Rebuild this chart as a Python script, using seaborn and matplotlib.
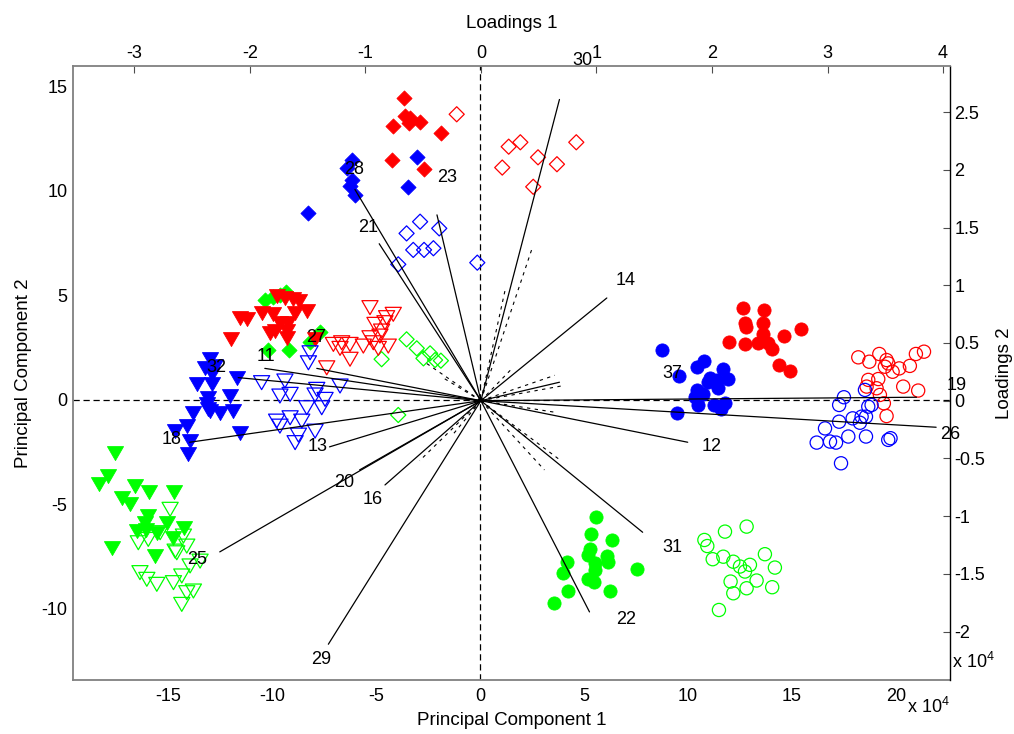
import numpy as np
import pandas as pd
import matplotlib
matplotlib.use("Agg")
import matplotlib.pyplot as plt
import seaborn as sns
from matplotlib.path import Path

# ---------------- scores (x 10^4) ----------------
red_diamond_filled = [(-3.65, 14.45), (-3.6, 13.6), (-3.41, 13.25), (-3.35, 13.5), (-2.88, 13.3),
                      (-4.18, 13.1), (-1.88, 12.78), (-4.23, 11.48), (-2.69, 11.05)]
red_diamond_open = [(-1.12, 13.67), (1.38, 12.12), (1.94, 12.33), (1.07, 11.12), (2.79, 11.61),
                    (3.7, 11.28), (4.63, 12.33), (2.56, 10.2)]
blue_diamond_filled = [(-6.17, 11.48), (-6.41, 11.08), (-6.17, 10.53), (-6.25, 10.24), (-6.0, 9.81),
                       (-8.25, 8.93), (-3.04, 11.61), (-3.45, 10.18)]
blue_diamond_open = [(-2.88, 8.53), (-3.53, 7.97), (-1.96, 8.21), (-3.21, 7.18), (-2.69, 7.18),
                     (-2.24, 7.26), (-3.93, 6.49), (-0.13, 6.57)]
green_diamond_filled = [(-10.34, 4.78), (-9.94, 4.94), (-9.34, 5.18), (-9.6, 5.0), (-10.18, 2.39),
                        (-9.18, 2.39), (-7.69, 3.27), (-8.17, 2.79)]
green_diamond_open = [(-3.53, 2.9), (-3.04, 2.47), (-2.4, 2.23), (-2.72, 1.99), (-2.16, 1.91),
                      (-1.88, 1.88), (-3.93, -0.72), (-4.73, 1.95)]

red_tri_filled = [(-11.99, 2.95), (-11.54, 3.99), (-11.22, 3.91), (-10.5, 4.23), (-9.78, 5.02),
                  (-9.38, 4.94), (-8.97, 4.87), (-8.69, 4.78), (-8.33, 4.31), (-8.89, 4.23),
                  (-9.94, 4.15), (-9.86, 3.35), (-10.1, 3.27), (-9.29, 3.03), (-9.62, 3.75),
                  (-9.21, 3.75), (-9.29, 3.35), (-7.93, 2.95)]
red_tri_open = [(-5.29, 4.47), (-4.17, 4.15), (-4.49, 3.99), (-5.05, 3.67), (-4.57, 3.75),
                (-4.73, 3.35), (-5.29, 3.03), (-7.05, 2.71), (-6.65, 2.79), (-6.25, 2.71),
                (-6.73, 2.52), (-5.61, 2.63), (-5.13, 2.79), (-4.89, 2.52), (-4.41, 2.63),
                (-6.25, 2.0), (-7.37, 1.59), (-4.81, 3.11)]
blue_tri_filled = [(-12.98, 2.0), (-13.22, 1.59), (-12.74, 1.67), (-12.9, 1.28), (-13.62, 0.8),
                   (-12.9, 0.8), (-11.7, 1.12), (-12.02, 0.24), (-13.06, 0.16), (-13.14, -0.16),
                   (-13.06, -0.4), (-12.5, -0.56), (-11.86, -0.48), (-13.78, -0.56), (-14.1, -1.2),
                   (-14.66, -1.44), (-13.94, -1.91), (-14.02, -2.55), (-11.54, -1.52), (-12.98, -0.48)]
blue_tri_open = [(-10.5, 0.88), (-9.38, 0.96), (-6.73, 0.72), (-9.62, 0.24), (-9.13, 0.32),
                 (-7.85, 0.56), (-7.93, 0.29), (-7.45, 0.08), (-8.33, -0.32), (-7.61, -0.32),
                 (-9.78, -0.96), (-9.13, -0.8), (-8.57, -0.96), (-9.62, -1.2), (-7.93, -1.44),
                 (-8.73, -1.63), (-8.89, -1.99), (-8.17, 2.31), (-8.25, 1.83)]
green_tri_filled = [(-18.3, -3.99), (-17.87, -3.59), (-16.59, -4.07), (-15.9, -4.34), (-14.7, -4.34),
                    (-17.23, -4.63), (-16.83, -4.94), (-15.98, -5.5), (-16.51, -6.22), (-16.06, -6.19),
                    (-15.54, -6.3), (-15.06, -5.82), (-14.74, -6.54), (-14.21, -6.06), (-17.68, -7.02),
                    (-15.63, -7.42), (-17.55, -2.47), (-16.1, -5.82)]
green_tri_open = [(-14.9, -5.18), (-16.43, -6.78), (-15.95, -6.62), (-15.38, -6.3), (-14.26, -6.46),
                  (-14.66, -7.18), (-14.1, -6.94), (-13.46, -7.66), (-13.94, -7.89), (-16.35, -8.21),
                  (-16.02, -8.53), (-15.54, -8.77), (-14.74, -8.69), (-14.34, -8.37), (-14.1, -9.17),
                  (-13.78, -9.09), (-14.34, -9.73), (-14.58, -7.26)]

red_circle_filled = [(12.63, 4.39), (13.67, 4.31), (12.74, 3.67), (13.62, 3.67), (11.99, 2.79),
                     (12.76, 2.68), (13.38, 2.71), (13.62, 3.16), (13.86, 2.71), (14.05, 2.44),
                     (14.62, 3.08), (15.45, 3.38), (14.39, 1.67), (14.9, 1.4), (12.79, 3.51)]
red_circle_open = [(18.19, 2.04), (18.72, 1.83), (19.2, 2.2), (19.55, 1.91), (19.63, 1.75),
                   (19.47, 1.59), (19.84, 1.35), (20.16, 1.51), (20.67, 1.63), (20.96, 2.2),
                   (21.35, 2.31), (18.67, 0.96), (19.15, 1.0), (18.59, 0.64), (19.07, 0.56),
                   (19.23, 0.24), (19.42, -0.16), (20.35, 0.64), (21.07, 0.45), (19.55, -0.77)]
blue_circle_filled = [(8.73, 2.39), (10.79, 1.87), (10.45, 1.56), (9.58, 1.15), (11.7, 1.47),
                      (11.94, 0.99), (11.06, 1.04), (11.41, 0.96), (11.46, 0.56), (10.42, 0.48),
                      (10.7, 0.27), (10.34, 0.13), (10.5, -0.24), (11.25, -0.24), (11.78, -0.13),
                      (11.57, -0.45), (9.46, -0.64), (10.98, 0.88)]
blue_circle_open = [(17.5, 0.13), (17.27, -0.24), (18.51, 0.48), (18.67, -0.32), (18.83, -0.24),
                    (17.92, -0.88), (18.35, -0.8), (18.27, -1.09), (18.56, -0.8), (17.27, -1.04),
                    (16.59, -1.36), (16.19, -2.04), (16.83, -1.99), (17.12, -2.04), (17.71, -1.75),
                    (18.56, -1.75), (19.63, -1.91), (19.74, -1.83), (17.36, -3.03)]
green_circle_filled = [(5.56, -5.58), (5.34, -6.43), (6.33, -6.7), (5.29, -7.14), (5.21, -7.42),
                       (4.17, -7.74), (6.12, -7.46), (6.17, -7.74), (5.53, -7.81), (5.53, -8.13),
                       (3.97, -8.29), (5.21, -8.58), (5.48, -8.69), (7.53, -8.09), (4.21, -9.14),
                       (6.25, -9.14), (3.57, -9.73)]
green_circle_open = [(11.78, -6.3), (12.82, -6.06), (10.79, -6.7), (10.93, -6.99), (11.19, -7.62),
                     (11.7, -7.5), (12.18, -7.74), (12.5, -7.97), (12.98, -7.89), (12.74, -8.21),
                     (13.7, -7.38), (14.18, -8.02), (12.05, -8.69), (13.3, -8.64), (12.82, -9.01),
                     (12.18, -9.25), (14.05, -8.96), (11.49, -10.05)]

# ---------------- loadings ----------------
var_names = ["11", "12", "13", "14", "16", "18", "19", "20", "21", "22",
             "23", "25", "26", "27", "28", "29", "30", "31", "32", "37"]
load1 = [-1.87, 1.79, -1.31, 1.09, -0.83, -2.52, 3.77, -1.05, -0.88, 0.94,
         -0.38, -2.26, 3.94, -1.42, -1.09, -1.32, 0.68, 1.40, -2.10, 0.68]
load2 = [0.28, -0.36, -0.40, 0.89, -0.73, -0.36, 0.03, -0.60, 1.36, -1.83,
         1.61, -1.31, -0.23, 0.28, 1.83, -2.11, 2.61, -1.14, 0.20, 0.16]
label1 = [-1.86, 2.00, -1.41, 1.25, -0.94, -2.68, 4.12, -1.18, -0.98, 1.26,
          -0.29, -2.46, 4.06, -1.43, -1.10, -1.38, 0.88, 1.66, -2.29, 1.66]
label2 = [0.38, -0.40, -0.40, 1.04, -0.86, -0.34, 0.13, -0.71, 1.50, -1.90,
          1.93, -1.38, -0.29, 0.55, 2.00, -2.24, 2.95, -1.27, 0.29, 0.24]
# small unlabelled loadings
minor1 = [0.44, 0.21, 0.28, 0.64, 0.71, 0.64, 0.42, 0.68, 0.55, -0.53, -0.24, -0.33, -0.48]
minor2 = [1.31, 0.96, 0.29, 0.22, 0.13, -0.10, -0.34, -0.51, -0.60, -0.52, -0.29, 0.20, 0.33]

pc1_ticks = [-15, -10, -5, 0, 5, 10, 15, 20]
pc2_ticks = [-10, -5, 0, 5, 10, 15]
l1_ticks = [-3, -2, -1, 0, 1, 2, 3, 4]
l2_ticks = [-2, -1.5, -1, -0.5, 0, 0.5, 1, 1.5, 2, 2.5]

# ---------------- style ----------------
sns.set_theme(style="white")
plt.rcParams["font.family"] = ["Liberation Sans", "DejaVu Sans"]
plt.rcParams["axes.unicode_minus"] = False
plt.rcParams["text.color"] = "black"
plt.rcParams["axes.labelcolor"] = "black"
plt.rcParams["xtick.color"] = "black"
plt.rcParams["ytick.color"] = "black"
plt.rcParams["mathtext.fontset"] = "custom"
plt.rcParams["mathtext.rm"] = "Liberation Sans"
plt.rcParams["mathtext.it"] = "Liberation Sans:italic"

W, H = 1014, 734
fig = plt.figure(figsize=(W / 100, H / 100), dpi=100)
rect = [73 / W, 1 - 680 / H, (950 - 73) / W, (680 - 66) / H]
ax = fig.add_axes(rect)
ax2 = fig.add_axes(rect, facecolor="none")

RED, BLUE, GREEN = "#ff0000", "#0000ff", "#00ff00"


def closed_marker(verts):
    pts = list(verts) + [verts[0]]
    codes = [Path.MOVETO] + [Path.LINETO] * (len(verts) - 1) + [Path.CLOSEPOLY]
    return Path(pts, codes)


TRI = closed_marker([(-1, 0.73), (1, 0.73), (0, -1.0)])
DIAM = closed_marker([(0, 1), (1, 0), (0, -1), (-1, 0)])
shapes = {"diamond": (DIAM, 118), "tri": (TRI, 135), "circle": ("o", 90)}

groups = [
    ("diamond", RED, True, red_diamond_filled), ("diamond", RED, False, red_diamond_open),
    ("diamond", BLUE, True, blue_diamond_filled), ("diamond", BLUE, False, blue_diamond_open),
    ("diamond", GREEN, True, green_diamond_filled), ("diamond", GREEN, False, green_diamond_open),
    ("tri", RED, True, red_tri_filled), ("tri", RED, False, red_tri_open),
    ("tri", BLUE, True, blue_tri_filled), ("tri", BLUE, False, blue_tri_open),
    ("tri", GREEN, True, green_tri_filled), ("tri", GREEN, False, green_tri_open),
    ("circle", RED, True, red_circle_filled), ("circle", RED, False, red_circle_open),
    ("circle", BLUE, True, blue_circle_filled), ("circle", BLUE, False, blue_circle_open),
    ("circle", GREEN, True, green_circle_filled), ("circle", GREEN, False, green_circle_open),
]

ax.axhline(0, color="black", lw=0.9, ls=(0, (5, 3)), zorder=1)
ax.axvline(0, color="black", lw=0.9, ls=(0, (5, 3)), zorder=1)

for shape, col, filled, pts in groups:
    df = pd.DataFrame(pts, columns=["pc1", "pc2"])
    marker, size = shapes[shape]
    if filled:
        sns.scatterplot(data=df, x="pc1", y="pc2", marker=marker, s=size, color=col,
                        edgecolor=col, linewidth=0.6, ax=ax, legend=False, zorder=3)
    else:
        sns.scatterplot(data=df, x="pc1", y="pc2", marker=marker, s=size, color=col,
                        facecolor="none", edgecolor=col, linewidth=0.9, ax=ax,
                        legend=False, zorder=3)

ax.set_xlim(-19.57, 22.6)
ax.set_ylim(-13.4, 15.98)
ax.set_xticks(pc1_ticks)
ax.set_yticks(pc2_ticks)
ax.set_xticklabels([str(t) for t in pc1_ticks])
ax.set_yticklabels([str(t) for t in pc2_ticks])
ax.tick_params(axis="both", direction="in", length=5, width=0.8, color="0.3",
               labelcolor="black", labelsize=13)
ax.tick_params(axis="x", pad=6)
ax.tick_params(axis="y", pad=4)
ax.set_xlabel("Principal Component 1", fontsize=13.5, color="black", labelpad=5)
ax.set_ylabel("Principal Component 2", fontsize=13.5, color="black", labelpad=7)
for s in ["top", "right"]:
    ax.spines[s].set_visible(False)
for s in ["left", "bottom"]:
    ax.spines[s].set_color("0.5")
    ax.spines[s].set_linewidth(1.3)
ax.grid(False)

# ---------------- loadings layer ----------------
for a, b in zip(minor1, minor2):
    ax2.plot([0, a], [0, b], color="black", lw=0.8, ls=(0, (3, 4)), zorder=2)
for a, b in zip(load1, load2):
    ax2.plot([0, a], [0, b], color="black", lw=0.9, zorder=2)
for name, a, b in zip(var_names, label1, label2):
    ax2.text(a, b, name, fontsize=13, ha="center", va="center", color="black", clip_on=False)

ax2.set_xlim(-3.53, 4.06)
ax2.set_ylim(-2.42, 2.90)
ax2.xaxis.tick_top()
ax2.yaxis.tick_right()
ax2.xaxis.set_label_position("top")
ax2.yaxis.set_label_position("right")
ax2.set_xticks(l1_ticks)
ax2.set_yticks(l2_ticks)
ax2.set_xticklabels([f"{t:g}" for t in l1_ticks])
ax2.set_yticklabels([f"{t:g}" for t in l2_ticks])
ax2.tick_params(axis="both", direction="in", length=5, width=0.8, color="0.3",
                labelcolor="black", labelsize=13, pad=3)
ax2.set_xlabel("Loadings 1", fontsize=13.5, color="black", labelpad=12)
ax2.set_ylabel("Loadings 2", fontsize=13.5, color="black", labelpad=8)
for s in ["left", "bottom"]:
    ax2.spines[s].set_visible(False)
ax2.spines["top"].set_color("0.5")
ax2.spines["top"].set_linewidth(1.3)
ax2.spines["right"].set_color("black")
ax2.spines["right"].set_linewidth(1.0)
ax2.grid(False)

fig.text(907 / W, 1 - 707 / H, r"x 10$^{4}$", fontsize=13, ha="left", va="center", color="black")
fig.text(952 / W, 1 - 662 / H, r"x 10$^{4}$", fontsize=13, ha="left", va="center", color="black")

fig.savefig("out.png", dpi=100)
